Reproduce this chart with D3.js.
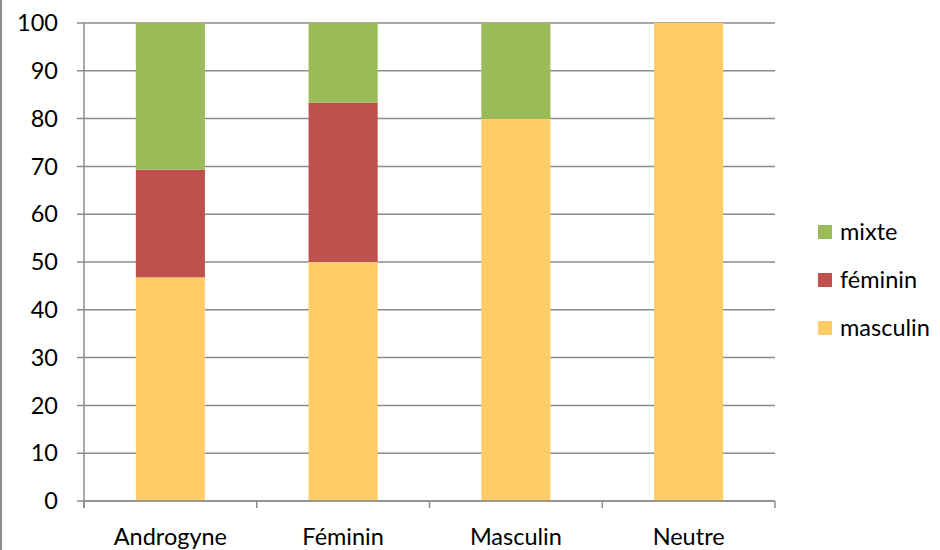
<!DOCTYPE html>
<html><head><meta charset="utf-8">
<script src="https://cdn.jsdelivr.net/npm/d3@7"></script>
<style>body{margin:0;background:#fff}svg{display:block}</style>
</head><body>
<script>
const categories = ["Androgyne", "Féminin", "Masculin", "Neutre"];
const masculin = [46.8, 50, 80, 100];
const feminin = [22.5, 33.3, 0, 0];
const mixte = [30.7, 16.7, 20, 0];
const yTicks = [0,10,20,30,40,50,60,70,80,90,100];
const seriesNames = ["masculin", "féminin", "mixte"];
const seriesColors = ["#FFCC66", "#C0504D", "#9BBB59"];

(function () {
const W = 940, H = 550;
const svg = d3.select("body").append("svg").attr("width", W).attr("height", H);
const font = "Lato, 'Open Sans', sans-serif";
const fs = 23.5;
const mLeft = 84, mRight = 775, mTop = 23, mBottom = 501;

const x = d3.scaleBand().domain(categories).range([mLeft, mRight]).paddingInner(0.6).paddingOuter(0.3);
const y = d3.scaleLinear().domain([0, 100]).range([mBottom, mTop]);

svg.append("line").attr("x1",1).attr("x2",1).attr("y1",0).attr("y2",H).attr("stroke","#8c8c8c").attr("stroke-width",2);

svg.append("g").selectAll("line").data(yTicks).join("line")
  .attr("x1", mLeft - 7).attr("x2", mRight)
  .attr("y1", d => y(d)).attr("y2", d => y(d))
  .attr("stroke", "#8c8c8c").attr("stroke-width", 1.5);

svg.append("line").attr("x1", mLeft).attr("x2", mLeft).attr("y1", mTop).attr("y2", mBottom + 7)
  .attr("stroke", "#8c8c8c").attr("stroke-width", 1.5);

svg.append("g").selectAll("text").data(yTicks).join("text")
  .attr("x", 58).attr("y", d => y(d)).attr("dy", "0.35em")
  .attr("text-anchor", "end").attr("font-family", font).attr("font-size", fs).attr("fill", "#000")
  .text(d => d);

const table = categories.map((c, i) => ({cat: c, masculin: masculin[i], "féminin": feminin[i], mixte: mixte[i]}));
const stack = d3.stack().keys(seriesNames)(table);
svg.append("g").selectAll("g").data(stack).join("g")
  .attr("fill", (d, i) => seriesColors[i])
  .selectAll("rect").data(d => d).join("rect")
  .attr("x", d => x(d.data.cat)).attr("width", x.bandwidth())
  .attr("y", d => y(d[1])).attr("height", d => y(d[0]) - y(d[1]));

const step = x.step();
const bounds = d3.range(categories.length + 1).map(i => mLeft + i * step);
svg.append("line").attr("x1", mLeft).attr("x2", mRight).attr("y1", mBottom).attr("y2", mBottom)
  .attr("stroke", "#8c8c8c").attr("stroke-width", 1.5);
svg.append("g").selectAll("line").data(bounds).join("line")
  .attr("x1", d => d).attr("x2", d => d).attr("y1", mBottom).attr("y2", mBottom + 7)
  .attr("stroke", "#8c8c8c").attr("stroke-width", 1.5);
svg.append("g").selectAll("text").data(categories).join("text")
  .attr("x", d => x(d) + x.bandwidth() / 2).attr("y", 545)
  .attr("text-anchor", "middle").attr("font-family", font).attr("font-size", fs).attr("fill", "#000")
  .text(d => d);

const legendItems = seriesNames.map((n, i) => ({name: n, color: seriesColors[i]})).reverse();
const lg = svg.append("g").selectAll("g").data(legendItems).join("g")
  .attr("transform", (d, i) => `translate(818, ${232 + i * 48})`);
lg.append("rect").attr("x", 0).attr("y", -7).attr("width", 14).attr("height", 14).attr("fill", d => d.color);
lg.append("text").attr("x", 22).attr("y", 0).attr("dy", "0.35em")
  .attr("font-family", font).attr("font-size", fs).attr("fill", "#000").text(d => d.name);
})();
</script>
</body></html>
